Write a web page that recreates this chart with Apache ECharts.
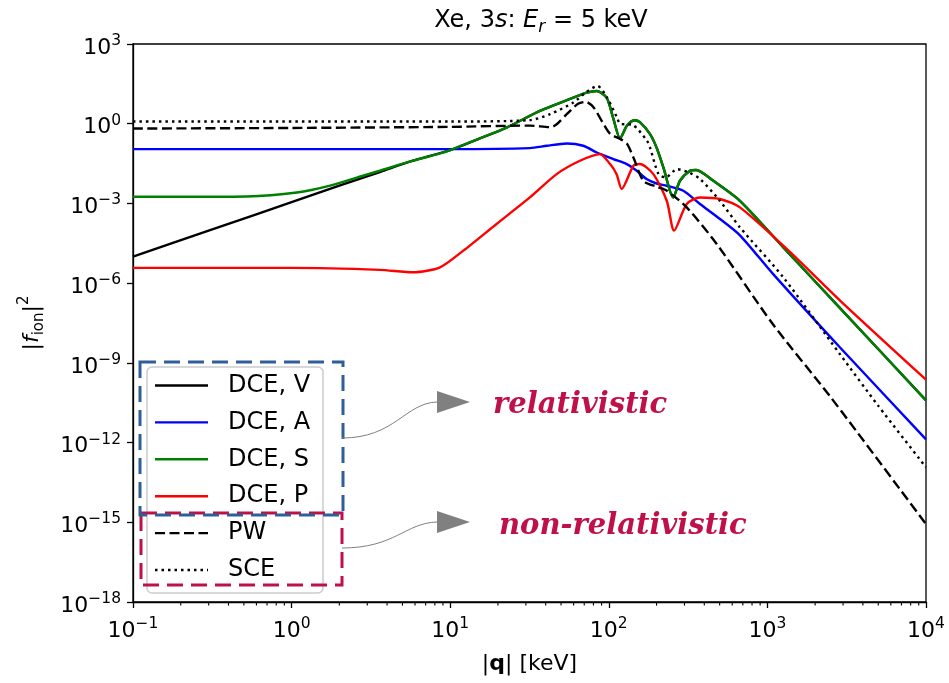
<!DOCTYPE html>
<html><head><meta charset="utf-8">
<script src="https://cdn.jsdelivr.net/npm/echarts@6/dist/echarts.min.js"></script>
<style>html,body{margin:0;padding:0;background:#fff}#c{width:949px;height:683px}</style>
</head><body><div id="c"></div>
<script>
// ---- data (|q| in keV, |f_ion|^2) ----
const qV = [0.1, 0.316, 1, 2, 3.6, 5.62, 10, 15.4, 22.7, 36.8, 59.7, 72.5, 84, 97, 106.4, 117.8, 130, 144.5, 157, 182, 200, 221, 255, 281, 325, 355, 456, 671, 1260, 2870, 10000];
const fV = [1.0e-5, 1.05e-4, 1.12e-3, 4.68e-3, 1.51e-2, 3.80e-2, 0.102, 0.282, 0.718, 3.04, 9.62, 14.8, 17.1, 9.33, 1.70, 0.282, 0.832, 1.35, 1.15, 0.406, 0.127, 2.25e-2, 1.68e-3, 7.13e-3, 1.69e-2, 1.82e-2, 7.13e-3, 1.26e-3, 2.23e-5, 1.15e-7, 3.88e-11];

const qA = [0.1, 1, 10, 31.8, 40.7, 54.3, 69, 84, 106.7, 129.7, 150, 173, 200, 232, 295, 376, 502, 671, 1084, 2871, 10000];
const fA = [0.111, 0.111, 0.111, 0.121, 0.148, 0.180, 0.148, 8.26e-2, 4.67e-2, 3.03e-2, 1.70e-2, 8.26e-3, 5.62e-3, 4.63e-3, 3.01e-3, 9.51e-4, 2.60e-4, 6.31e-5, 2.24e-6, 3.80e-9, 1.32e-12];

const qS = [0.1, 0.25, 0.52, 1.08, 1.75, 2.82, 3.6, 5.62, 8.63, 10, 15.4, 22.7, 36.8, 59.7, 72.5, 84, 97, 106.4, 117.8, 130, 144.5, 157, 182, 200, 221, 255, 281, 325, 355, 456, 671, 1260, 2870, 10000];
const fS = [1.78e-3, 1.78e-3, 1.82e-3, 2.57e-3, 4.68e-3, 1.10e-2, 1.70e-2, 3.80e-2, 7.59e-2, 0.102, 0.282, 0.718, 3.04, 9.62, 14.8, 17.1, 9.33, 1.70, 0.282, 0.832, 1.35, 1.15, 0.406, 0.127, 2.25e-2, 1.68e-3, 7.13e-3, 1.69e-2, 1.82e-2, 7.13e-3, 1.26e-3, 2.23e-5, 1.15e-7, 3.88e-11];

const qP = [0.1, 1, 3.6, 5.85, 8.63, 12.1, 19.6, 31.8, 46.9, 65.8, 87.9, 101.9, 112, 120.5, 143, 157, 191, 232, 258, 310, 376, 502, 671, 1324, 2871, 10000];
const fP = [3.75e-6, 3.75e-6, 3.16e-6, 2.56e-6, 3.95e-6, 1.67e-5, 1.69e-4, 1.68e-3, 1.27e-2, 4.03e-2, 7.18e-2, 3.03e-2, 1.26e-2, 3.48e-3, 2.61e-2, 3.03e-2, 1.27e-2, 1.26e-3, 9.44e-5, 9.51e-4, 1.68e-3, 1.47e-3, 7.10e-4, 1.94e-5, 2.22e-7, 2.33e-10];

const qPW = [0.1, 1, 10, 31.8, 42.6, 46.5, 53.7, 64, 71.8, 80.5, 91.8, 101.9, 117.8, 130.3, 143, 165, 200, 232, 310, 479, 1084, 2483, 10000];
const fPW = [0.658, 0.692, 0.762, 0.851, 0.741, 0.912, 2.14, 5.62, 6.61, 3.98, 1.07, 0.417, 0.269, 0.174, 5.36e-2, 7.13e-3, 4.25e-3, 3.01e-3, 7.10e-4, 2.99e-5, 2.82e-8, 5.50e-11, 8.51e-16];

const qSCE = [0.1, 10, 31.8, 42.6, 59.7, 72.4, 85, 97.5, 112.7, 117.8, 142, 174, 182, 206, 229, 269, 316, 376, 501, 671, 1259, 2871, 4977, 10000];
const fSCE = [1.21, 1.21, 1.36, 2.29, 6.24, 15.8, 26.3, 9.62, 1.70, 1.0, 0.891, 0.229, 0.126, 1.26e-2, 9.55e-3, 1.95e-2, 1.51e-2, 8.32e-3, 1.26e-3, 1.26e-4, 1.66e-6, 2.09e-9, 2.51e-11, 1.17e-13];

const seriesNames = ['DCE, V', 'DCE, A', 'DCE, S', 'DCE, P', 'PW', 'SCE'];
const seriesColors = ['#000000', '#0000ff', '#008000', '#ff0000', '#000000', '#000000'];
const DASH = [10, 4.5], DOT = [2.5, 4];
const seriesDash = ['solid', 'solid', 'solid', 'solid', DASH, DOT];
const xMin = 0.1, xMax = 10000, yMin = 1e-18, yMax = 1e3;
const minorMult = [2, 3, 4, 5, 6, 7, 8, 9];
const decadeStarts = [0.1, 1, 10, 100, 1000];

const pairs = (q, f) => q.map((v, i) => [v, f[i]]);
const minorTicks = [];
decadeStarts.forEach(d => minorMult.forEach(m => minorTicks.push([d * m, yMin])));

const FONT = 'DejaVu Sans';
function powLabel(v) {
  const e = Math.round(Math.log10(v));
  return '{b|10}{s|' + (e < 0 ? '\u2212' + (-e) : String(e)) + '}';
}
const labelRich = {
  b: {fontFamily: FONT, fontSize: 22, color: '#000', lineHeight: 30, verticalAlign: 'middle'},
  s: {fontFamily: FONT, fontSize: 15.5, color: '#000', verticalAlign: 'top', lineHeight: 15}
};

function lineSeries(i, q, f) {
  return {
    name: seriesNames[i], type: 'line', data: pairs(q, f), showSymbol: false, symbol: 'none', smooth: 0.25,
    lineStyle: {color: seriesColors[i], width: 2.4, type: seriesDash[i], cap: 'butt'},
    itemStyle: {color: seriesColors[i]}, emphasis: {disabled: true}, animation: false, z: 2 + i
  };
}

// manual legend (matplotlib-like)
const legX = 147, legY = 367, legW = 176, legH = 226, legRow0 = 385.5, legStep = 36.9;
const legendGraphics = [{type: 'rect', shape: {x: legX, y: legY, width: legW, height: legH, r: 5},
  style: {fill: 'rgba(255,255,255,0.9)', stroke: '#cccccc', lineWidth: 1.5}, z: 110}];
seriesNames.forEach((n, i) => {
  const y = legRow0 + i * legStep;
  legendGraphics.push({type: 'line', shape: {x1: 155, y1: y, x2: 208, y2: y},
    style: {stroke: seriesColors[i], lineWidth: 2.4, lineDash: Array.isArray(seriesDash[i]) ? seriesDash[i] : null}, z: 111});
  legendGraphics.push({type: 'text', x: 228, y: y, style: {text: n, align: 'left', verticalAlign: 'middle',
    font: '24px "DejaVu Sans"', fill: '#000'}, z: 111});
});

const chart = echarts.init(document.getElementById('c'), null, {renderer: 'canvas'});
const gridL = 133, gridR = 23, gridT = 44, gridB = 81;

chart.setOption({
  animation: false,
  backgroundColor: '#fff',
  grid: {left: gridL, right: gridR, top: gridT, bottom: gridB, show: true, borderColor: '#000', borderWidth: 1.3, backgroundColor: 'transparent'},
  xAxis: {
    type: 'log', logBase: 10, min: xMin, max: xMax, interval: 1,
    axisLine: {show: true, lineStyle: {color: '#000', width: 1.3}},
    axisTick: {show: true, length: 6, lineStyle: {color: '#000', width: 1.3}},
    minorTick: {show: false}, splitLine: {show: false},
    axisLabel: {formatter: powLabel, rich: labelRich, margin: 14, showMinLabel: true, showMaxLabel: true},
    name: '|{bq|q}| [keV]', nameLocation: 'middle', nameGap: 51,
    nameTextStyle: {fontFamily: FONT, fontSize: 22, color: '#000', rich: {bq: {fontFamily: FONT, fontSize: 22, fontWeight: 'bold', color: '#000'}}}
  },
  yAxis: {
    type: 'log', logBase: 10, min: yMin, max: yMax, interval: 3,
    axisLine: {show: true, lineStyle: {color: '#000', width: 1.3}},
    axisTick: {show: true, length: 6, lineStyle: {color: '#000', width: 1.3}},
    minorTick: {show: false}, splitLine: {show: false},
    axisLabel: {formatter: powLabel, rich: labelRich, margin: 12, padding: [8, 0, 0, 0], showMinLabel: true, showMaxLabel: true},
    name: '|{fi|f}{sub|ion}|{sup|2}', nameLocation: 'middle', nameGap: 86, nameRotate: 90,
    nameTextStyle: {fontFamily: FONT, fontSize: 22, color: '#000', rich: {
      fi: {fontFamily: FONT, fontSize: 22, fontStyle: 'italic', color: '#000', lineHeight: 30, verticalAlign: 'middle'},
      sub: {fontFamily: FONT, fontSize: 15, color: '#000', verticalAlign: 'bottom', lineHeight: 30},
      sup: {fontFamily: FONT, fontSize: 15, color: '#000', verticalAlign: 'top', lineHeight: 15}
    }}
  },
  graphic: legendGraphics.concat([
    {type: 'text', x: 541, y: 21, style: {text: 'Xe, 3{i|s}: {i|E}{sub|r} = 5 keV', align: 'center', verticalAlign: 'middle',
      font: '24px "DejaVu Sans"', fill: '#000', rich: {
        i: {fontFamily: FONT, fontSize: 24, fontStyle: 'italic', lineHeight: 30, verticalAlign: 'middle'},
        sub: {fontFamily: FONT, fontSize: 17, fontStyle: 'italic', verticalAlign: 'bottom', lineHeight: 30}
      }}, z: 100},
    {type: 'rect', shape: {x: 140, y: 362, width: 203, height: 153}, style: {fill: 'none', stroke: '#2f5f98', lineWidth: 3, lineDash: [16, 8]}, z: 120},
    {type: 'rect', shape: {x: 141, y: 513, width: 201, height: 72}, style: {fill: 'none', stroke: '#c0104a', lineWidth: 3, lineDash: [16, 8]}, z: 119},
    {type: 'bezierCurve', shape: {x1: 342, y1: 438, cpx1: 395, cpy1: 438, cpx2: 405, cpy2: 403, x2: 437, y2: 402}, style: {stroke: '#808080', lineWidth: 1, fill: 'none'}, z: 120},
    {type: 'polygon', shape: {points: [[437, 391], [437, 413], [470, 402]]}, style: {fill: '#808080'}, z: 120},
    {type: 'bezierCurve', shape: {x1: 342, y1: 548, cpx1: 395, cpy1: 548, cpx2: 405, cpy2: 523, x2: 437, y2: 522}, style: {stroke: '#808080', lineWidth: 1, fill: 'none'}, z: 120},
    {type: 'polygon', shape: {points: [[437, 511], [437, 533], [470, 522]]}, style: {fill: '#808080'}, z: 120},
    {type: 'text', x: 493, y: 405, style: {text: 'relativistic', align: 'left', verticalAlign: 'middle', font: 'italic bold 29px "DejaVu Serif"', fill: '#c0104a'}, z: 120},
    {type: 'text', x: 499, y: 526, style: {text: 'non-relativistic', align: 'left', verticalAlign: 'middle', font: 'italic bold 29px "DejaVu Serif"', fill: '#c0104a'}, z: 120}
  ]),
  series: [
    lineSeries(0, qV, fV),
    lineSeries(1, qA, fA),
    lineSeries(2, qS, fS),
    lineSeries(3, qP, fP),
    lineSeries(4, qPW, fPW),
    lineSeries(5, qSCE, fSCE),
    {
      type: 'custom', silent: true, clip: false, data: minorTicks, z: 1,
      encode: {x: 0, y: 1},
      renderItem: (params, api) => {
        const p = api.coord([api.value(0), api.value(1)]);
        return {type: 'line', shape: {x1: p[0], y1: p[1], x2: p[0], y2: p[1] + 3.6}, style: {stroke: '#000', lineWidth: 1.1}};
      }
    }
  ]
});
</script></body></html>
